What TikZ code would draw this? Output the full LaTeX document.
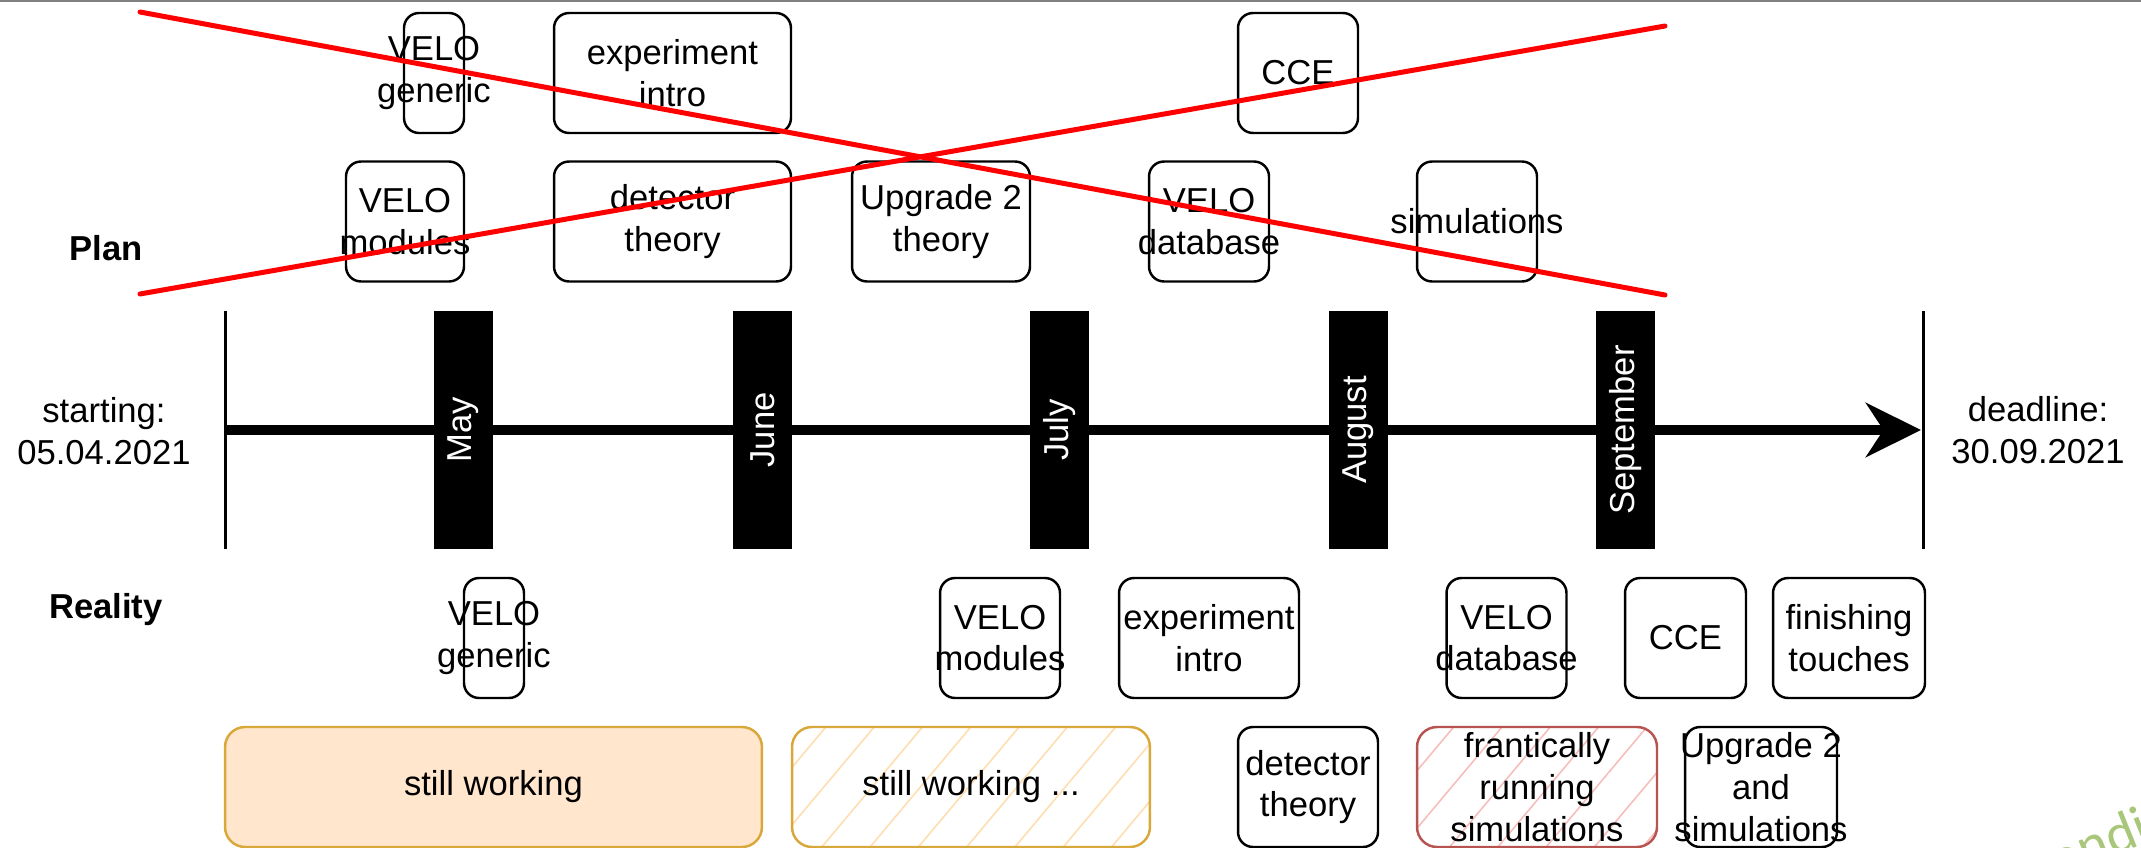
\documentclass[tikz,border=0pt]{standalone}
\usepackage{fontspec}
\setmainfont{Liberation Sans}
\newfontfamily\notefont{Carlito}
\usetikzlibrary{arrows.meta, patterns.meta}

\newcommand{\labfont}{\fontsize{19.7pt}{23.8pt}\selectfont}

\definecolor{crossred}{RGB}{255,0,0}
\definecolor{workline}{HTML}{D9A83A}
\definecolor{workfill}{HTML}{FFE6CC}
\definecolor{workhatch}{HTML}{FFDDB0}
\definecolor{rushline}{HTML}{B85450}
\definecolor{rushhatch}{HTML}{F5BDBB}
\definecolor{notegreen}{RGB}{169,199,122}

\tikzset{
  txt/.style={align=center, font=\labfont, inner sep=0pt},
  heading/.style={txt, font=\labfont\bfseries},
  box/.style={draw, rounded corners=0.3cm, line width=1.4pt, inner sep=0pt, minimum height=2.4cm},
  month/.style={fill=black, text=white, rotate=90, font=\labfont, inner sep=0pt,
                minimum width=4.76cm, minimum height=1.18cm},
  tick/.style={line width=0.06cm},
  axis/.style={line width=0.2cm, -{Stealth[length=1.1cm, width=1.08cm, inset=0.35cm]}},
  cross/.style={crossred, line width=0.1cm, line cap=round},
  working/.style={box, draw=workline, fill=workfill, rounded corners=0.4cm},
  workhatched/.style={box, draw=workline, rounded corners=0.4cm,
                      pattern={Lines[angle=50, distance=0.74cm, line width=0.9pt]}, pattern color=workhatch},
  rushhatched/.style={box, draw=rushline, rounded corners=0.4cm,
                      pattern={Lines[angle=50, distance=0.74cm, line width=0.9pt]}, pattern color=rushhatch}
}

\begin{document}
\begin{tikzpicture}[x=0.02cm, y=-0.02cm]
  \useasboundingbox (0,0) rectangle (2141,848);
  \draw[gray, line width=0.04cm] (0,1) -- (2141,1);

  % timeline
  \coordinate (t0) at (225,430);
  \coordinate (t1) at (1921,430);
  \draw[tick] (225,311) -- (225,549);
  \draw[tick] (1923,311) -- (1923,549);
  \draw[axis] (t0) -- (t1);

  \node[month] (may) at (463.5,430) {May};
  \node[month] (june) at (762.5,430) {June};
  \node[month] (july) at (1059.5,430) {July};
  \node[month] (august) at (1358,430) {August};
  \node[month] (september) at (1625.5,430) {September};

  \node[txt] (start) at (104,431) {starting:\\05.04.2021};
  \node[txt] (deadline) at (2038,430) {deadline:\\30.09.2021};

  \node[heading] (plan) at (106,248) {Plan};
  \node[heading] (reality) at (106,610) {Reality};

  % plan
  \node[box, minimum width=1.2cm, label={[txt]center:VELO\\generic}] (pGeneric) at (434,73) {};
  \node[box, minimum width=4.74cm, label={[txt]center:experiment\\intro}] (pIntro) at (672.5,73) {};
  \node[box, minimum width=2.4cm, label={[txt]center:CCE}] (pCCE) at (1298,73) {};

  \node[box, minimum width=2.36cm, label={[txt]center:VELO\\modules}] (pModules) at (405,221.5) {};
  \node[box, minimum width=4.74cm, label={[txt]center:detector\\theory}] (pDetector) at (672.5,221.5) {};
  \node[box, minimum width=3.56cm, label={[txt]center:Upgrade 2\\theory}] (pUpgrade) at (941,221.5) {};
  \node[box, minimum width=2.4cm, label={[txt]center:VELO\\database}] (pDatabase) at (1209,221.5) {};
  \node[box, minimum width=2.4cm, label={[txt]center:simulations}] (pSim) at (1477,221.5) {};

  % reality
  \node[box, minimum width=1.2cm, label={[txt]center:VELO\\generic}] (rGeneric) at (494,638) {};
  \node[box, minimum width=2.4cm, label={[txt]center:VELO\\modules}] (rModules) at (1000,638) {};
  \node[box, minimum width=3.6cm, label={[txt]center:experiment\\intro}] (rIntro) at (1209,638) {};
  \node[box, minimum width=2.4cm, label={[txt]center:VELO\\database}] (rDatabase) at (1506.5,638) {};
  \node[box, minimum width=2.42cm, label={[txt]center:CCE}] (rCCE) at (1685.5,638) {};
  \node[box, minimum width=3.04cm, label={[txt]center:finishing\\touches}] (rTouches) at (1849,638) {};

  \node[working, minimum width=10.74cm, label={[txt]center:still working}] (rWorking) at (493.5,787) {};
  \node[workhatched, minimum width=7.16cm, label={[txt]center:still working ...}] (rWorkingMore) at (971,787) {};
  \node[box, minimum width=2.8cm, label={[txt]center:detector\\theory}] (rDetector) at (1308,787) {};
  \node[rushhatched, minimum width=4.8cm, label={[txt]center:frantically\\running\\simulations}] (rFrantic) at (1537,787) {};
  \node[box, minimum width=3.04cm, label={[txt]center:Upgrade 2\\and\\simulations}] (rUpgrade) at (1761,787) {};

  \node[font=\notefont\fontsize{32pt}{38pt}\selectfont, text=notegreen, rotate=22, anchor=base west, inner sep=0pt] (note) at (2036,888) {Londi};

  % crossed out plan
  \coordinate (c1) at (140,12);
  \coordinate (c2) at (1665,295);
  \coordinate (c3) at (140,294);
  \coordinate (c4) at (1665,26);
  \draw[cross] (c1) -- (c2);
  \draw[cross] (c3) -- (c4);
\end{tikzpicture}
\end{document}
